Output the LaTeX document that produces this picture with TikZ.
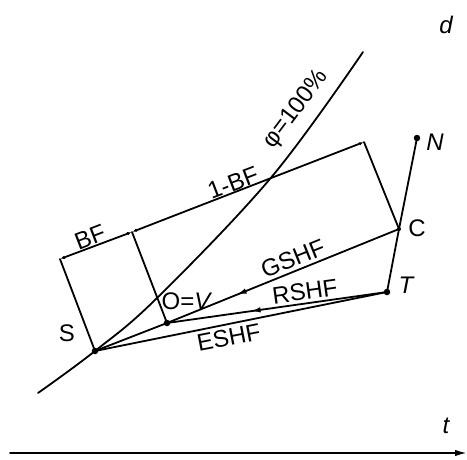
\documentclass[tikz,border=0pt]{standalone}
\usepackage{fontspec}
\setmainfont{Liberation Sans}
\usetikzlibrary{arrows.meta,decorations.markings}
\begin{document}
\begin{tikzpicture}[x=1pt,y=-1pt, line width=1.8pt, line cap=round, line join=round,
 lbl/.style={font=\fontsize{24}{28}\selectfont, inner sep=0pt},
 ilbl/.style={font=\fontsize{24}{28}\selectfont\itshape, inner sep=0pt},
 dotpt/.style={circle,fill,inner sep=0pt,minimum size=6.5pt},
 dimline/.style={{Latex[length=5pt,width=3.5pt]}-{Latex[length=5pt,width=3.5pt]}},
 midarrow/.style={postaction={decorate},decoration={markings,mark=at position #1 with {\arrow{Latex[length=10pt,width=5.5pt]}}}}]
\useasboundingbox (0,0) rectangle (467,459);
% points
\coordinate (S) at (95,351);
\coordinate (V) at (167,323);
\coordinate (C) at (399,229);
\coordinate (T) at (387,292);
\coordinate (N) at (417,138);
\coordinate (TL) at (60,259);
\coordinate (TK) at (132,232);
\coordinate (TR) at (364,142);
\coordinate (A0) at (10,453);
\coordinate (A1) at (467,453);
% phi = 100% curve
\draw plot[smooth, tension=0.6] coordinates {(38,393) (95,351) (157,298) (272,176.5) (363,52)};
% frame
\draw (S) -- (TL);
\draw (V) -- (TK);
\draw (C) -- (TR);
\draw[dimline] (TL) -- (TK);
\draw[dimline] (TK) -- (TR);
% lines
\draw (S) -- (V);
\draw[midarrow=0.70] (C) -- (V);
\draw[midarrow=0.62] (T) -- (V);
\draw (S) -- (T);
\draw (T) -- (C) -- (N);
% axis
\draw[-{Latex[length=12pt,width=6.5pt]}] (A0) -- (A1);
% dots
\node[dotpt] (s) at (S) {};
\node[dotpt] (v) at (V) {};
\node[dotpt] (t) at (T) {};
\node[dotpt] (n) at (N) {};
\node[dotpt,minimum size=4pt] (c) at (C) {};
% labels
\node[lbl] (lS) at (67,333) {S};
\node[lbl] (lOV) at (187,301) {O=\textit{V}};
\node[lbl] (lC) at (417,228) {C};
\node[ilbl] (lT) at (406,285) {T};
\node[ilbl] (lN) at (435,142) {N};
\node[lbl,rotate=21,anchor=base] (lBF) at (93,245) {BF};
\node[lbl,rotate=21,anchor=base] (l1BF) at (236,190.5) {1-BF};
\node[lbl,rotate=22,anchor=base] (lG) at (296,266) {GSHF};
\node[lbl,rotate=8,anchor=base] (lR) at (306,299.5) {RSHF};
\node[lbl,rotate=11,anchor=north] (lE) at (227,328) {ESHF};
\node[lbl,rotate=53,anchor=base] (lphi) at (301,113) {φ=100\%};
\node[ilbl] (ld) at (446,25) {d};
\node[ilbl] (lt) at (446,426) {t};
\end{tikzpicture}
\end{document}
